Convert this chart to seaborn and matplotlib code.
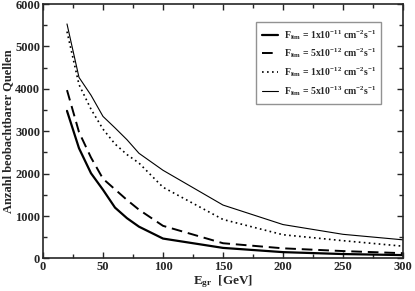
import numpy as np
import pandas as pd
import matplotlib
matplotlib.use("Agg")
import matplotlib.pyplot as plt
import seaborn as sns
from matplotlib.ticker import MultipleLocator

# ## Data ## #
energy = [20, 30, 40, 50, 60, 70, 80, 100, 150, 200, 250, 300]
n_1e11 = [3480, 2600, 2010, 1620, 1200, 950, 750, 470, 250, 150, 105, 80]
n_5e12 = [3970, 2980, 2380, 1880, 1630, 1380, 1150, 770, 360, 240, 175, 125]
n_1e12 = [5350, 4100, 3520, 3050, 2700, 2450, 2250, 1680, 920, 560, 420, 290]
n_5e13 = [5530, 4270, 3850, 3350, 3080, 2800, 2480, 2080, 1260, 800, 570, 440]

labels = [
    r"$\mathrm{F_{lim}}$ = 1x10$^{-11}$ cm$^{-2}$s$^{-1}$",
    r"$\mathrm{F_{lim}}$ = 5x10$^{-12}$ cm$^{-2}$s$^{-1}$",
    r"$\mathrm{F_{lim}}$ = 1x10$^{-12}$ cm$^{-2}$s$^{-1}$",
    r"$\mathrm{F_{lim}}$ = 5x10$^{-13}$ cm$^{-2}$s$^{-1}$",
]

sns.set_style("ticks")
plt.rcParams["font.family"] = ["Liberation Serif", "DejaVu Serif"]
plt.rcParams["font.weight"] = "bold"
plt.rcParams["mathtext.fontset"] = "custom"
plt.rcParams["mathtext.rm"] = "Liberation Serif:bold"
plt.rcParams["mathtext.it"] = "Liberation Serif:italic:bold"
plt.rcParams["mathtext.bf"] = "Liberation Serif:bold"

fig = plt.figure(figsize=(4.15, 2.91), dpi=100)
ax = fig.add_axes([0.1036, 0.1117, 0.8675, 0.8745])

styles = [
    dict(lw=1.6, ls="-"),
    dict(lw=1.4, ls=(0, (5.5, 3))),
    dict(lw=1.2, ls=(0, (1, 2))),
    dict(lw=0.8, ls="-"),
]
for series, lab, st in zip([n_1e11, n_5e12, n_1e12, n_5e13], labels, styles):
    sns.lineplot(x=energy, y=series, ax=ax, color="black", label=lab, **st)

ax.set_xlim(0, 300)
ax.set_ylim(0, 6000)
ax.xaxis.set_major_locator(MultipleLocator(50))
ax.xaxis.set_minor_locator(MultipleLocator(25))
ax.yaxis.set_major_locator(MultipleLocator(1000))
ax.yaxis.set_minor_locator(MultipleLocator(500))
ax.tick_params(which="both", direction="in", top=True, right=True, width=1, labelsize=9, pad=2)
ax.tick_params(which="major", length=4)
ax.tick_params(which="minor", length=3)
for lab in ax.get_xticklabels() + ax.get_yticklabels():
    lab.set_fontweight("bold")
for sp in ax.spines.values():
    sp.set_linewidth(1.2)

ax.set_xlabel(r"E$_{\mathrm{gr}}$  [GeV]", fontsize=9.5, fontweight="bold", labelpad=0)
ax.set_ylabel("Anzahl beobachtbarer Quellen", fontsize=9, fontweight="bold")
ax.yaxis.set_label_coords(-0.08, 0.5)

leg = ax.legend(loc="upper right", bbox_to_anchor=(0.94, 0.93), fontsize=7, frameon=True,
                fancybox=False, handlelength=1.6, handletextpad=0.6, borderpad=0.6,
                labelspacing=0.5, borderaxespad=0)
leg.get_frame().set_edgecolor("#777777")
leg.get_frame().set_linewidth(1.0)

fig.savefig("out.png", dpi=100)
